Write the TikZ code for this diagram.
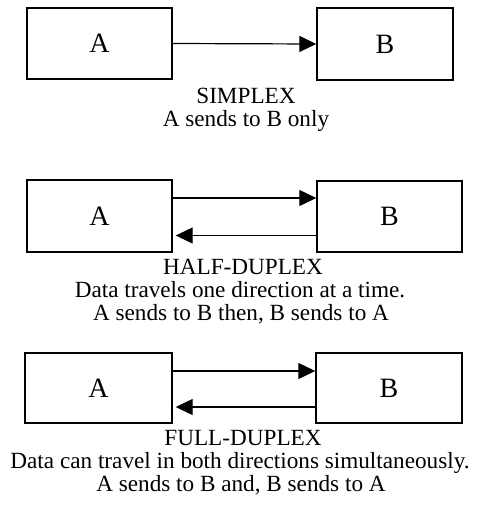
\documentclass[tikz,border=0pt]{standalone}
\usepackage{fontspec}
\setmainfont{Liberation Serif}
\usetikzlibrary{arrows.meta}
\begin{document}
\begin{tikzpicture}[x=0.5pt, y=-0.5pt,
    station/.style={draw, line width=0.7pt, inner sep=0pt, minimum width=72.5pt, minimum height=35.5pt, font=\fontsize{14}{16}\selectfont},
    link/.style={line width=0.6pt, -{Triangle[length=8.5pt, width=8pt]}},
    caption/.style={anchor=base, inner sep=0pt, font=\fontsize{11.6}{14}\selectfont}]
    \useasboundingbox (0,0) rectangle (480,509);

    % Simplex
    \node[station] (sA) at (99.5,43.5) {A};
    \node[station, minimum width=68pt, minimum height=36pt] (sB) at (385,44) {B};
    \draw[link] (sA.east) -- (sB.west);
    \node[caption] (sTitle) at (246,103) {SIMPLEX};
    \node[caption] (sText) at (246,126) {A sends to B only};

    % Half-duplex
    \node[station, minimum height=36pt] (hA) at (99.5,216) {A};
    \node[station] (hB) at (389.5,216.5) {B};
    \draw[link] ([yshift=9pt]hA.east) -- ([yshift=9pt]hA.east -| hB.west);
    \draw[link, shorten >=1.5pt] ([yshift=-9.5pt]hB.west) -- ([yshift=-9.5pt]hB.west -| hA.east);
    \node[caption] (hTitle) at (243,274) {HALF-DUPLEX};
    \node[caption] (hText) at (240,297) {Data travels one direction at a time.};
    \node[caption] (hNote) at (241,320) {A sends to B then, B sends to A};

    % Full-duplex
    \node[station, minimum width=73.5pt, minimum height=35pt] (fA) at (98.5,388) {A};
    \node[station, minimum width=73pt, minimum height=35pt] (fB) at (389,388) {B};
    \draw[link] ([yshift=8.5pt]fA.east) -- ([yshift=8.5pt]fA.east -| fB.west);
    \draw[link, shorten >=1.5pt] ([yshift=-9.5pt]fB.west) -- ([yshift=-9.5pt]fB.west -| fA.east);
    \node[caption] (fTitle) at (243,445) {FULL-DUPLEX};
    \node[caption] (fText) at (240,468) {Data can travel in both directions simultaneously.};
    \node[caption] (fNote) at (241,491) {A sends to B and, B sends to A};
\end{tikzpicture}
\end{document}
